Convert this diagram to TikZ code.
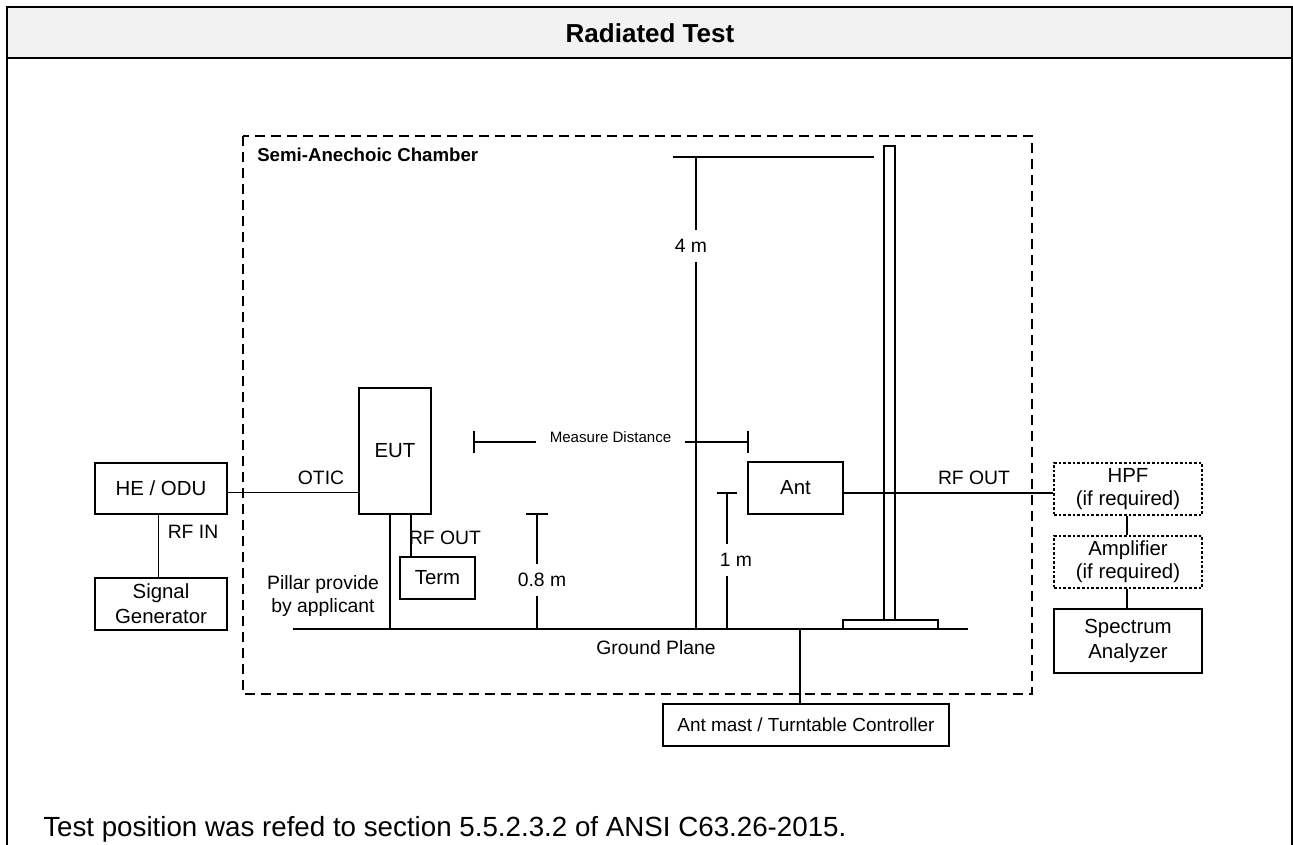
\documentclass[tikz,border=0pt]{standalone}
\usepackage{fontspec}
\setmainfont{Liberation Sans}
\definecolor{hdr}{HTML}{F2F2F2}
\tikzset{
  lbl/.style={font=\fontsize{14.5}{17}\selectfont, inner sep=1pt},
  box/.style={draw, line width=0.9pt, font=\fontsize{15.3}{18.5}\selectfont, align=center, inner sep=0pt},
  dbox/.style={box, font=\fontsize{15.3}{17.5}\selectfont, dash pattern=on 2pt off 1.5pt},
  wire/.style={line width=0.9pt},
  dimline/.style={line width=0.9pt},
  gaplbl/.style={font=\fontsize{14.5}{17}\selectfont, inner xsep=1pt, inner ysep=7pt},
}
\begin{document}
\begin{tikzpicture}[x=0.75pt,y=-0.75pt]
\useasboundingbox (0,0) rectangle (1293,845);
% frame and header
\fill[hdr] (7,7) rectangle (1292,58);
\draw[line width=1.5pt] (7,845) -- (7,7) -- (1292,7) -- (1292,845);
\draw[line width=1.5pt] (7,58) -- (1292,58);
\node[font=\bfseries\fontsize{19.5}{22}\selectfont] (title) at (650,33) {Radiated Test};
% chamber
\draw[line width=0.9pt, dash pattern=on 7.5pt off 4.5pt] (243,136) rectangle (1032,694);
\node[font=\bfseries\fontsize{14}{16}\selectfont, anchor=west, inner sep=0pt] (chamber) at (257,155) {Semi-Anechoic Chamber};
% ground plane
\coordinate (gl) at (293,629);
\coordinate (gr) at (968,629);
\draw[line width=2.2pt] (gl) -- (gr);
\node[lbl] (gp) at (656,648) {Ground Plane};
% boxes
\node[box, minimum width=99pt, minimum height=38.25pt] (heodu) at (161,488.5) {HE / ODU};
\node[box, minimum width=99pt, minimum height=39pt] (sg) at (161,604) {Signal\\Generator};
\node[box, minimum width=54pt, minimum height=94.5pt] (eut) at (395,451) {EUT};
\node[box, minimum width=56.25pt, minimum height=31.5pt] (term) at (437.5,578) {Term};
\node[box, minimum width=71.25pt, minimum height=39pt] (ant) at (795.5,488) {Ant};
\node[dbox, minimum width=111pt, minimum height=39pt] (hpf) at (1128,489) {HPF\\(if required)};
\node[dbox, minimum width=111pt, minimum height=39pt] (amp) at (1128,562) {Amplifier\\(if required)};
\node[box, minimum width=111pt, minimum height=48pt] (sa) at (1128,641) {Spectrum\\Analyzer};
\node[box, font=\fontsize{14.2}{17}\selectfont, minimum width=214.5pt, minimum height=31.5pt] (ctrl) at (806,725) {Ant mast / Turntable Controller};
% mast
\draw[line width=0.9pt] (884,620) -- (884,146) -- (895,146) -- (895,620);
\draw[line width=0.9pt] (843,629) -- (843,620) -- (938,620) -- (938,629);
% connectors
\draw[wire] ([yshift=-3pt]heodu.east) -- ([yshift=-3pt]heodu.east -| eut.west);
\node[lbl] (otic) at (321,478) {OTIC};
\draw[wire] ([xshift=-2pt]heodu.south) -- ([xshift=-2pt]sg.north);
\node[lbl] (rfin) at (193,532) {RF IN};
\coordinate (pil) at (390,629);
\draw[wire] (pil |- eut.south) -- (pil);
\node[lbl, align=center] (pillar) at (323,596) {Pillar provide\\by applicant};
\coordinate (rfo) at (411,557);
\draw[wire] (rfo |- eut.south) -- (rfo |- term.north);
\node[lbl] (rfout1) at (445,538) {RF OUT};
\draw[wire] ([yshift=-3.75pt]ant.east) -- ([yshift=-3.75pt]ant.east -| hpf.west);
\node[lbl] (rfout2) at (974,478) {RF OUT};
\draw[wire] ([xshift=-0.75pt]hpf.south) -- ([xshift=-0.75pt]amp.north);
\draw[wire] ([xshift=-0.75pt]amp.south) -- ([xshift=-0.75pt]sa.north);
\coordinate (cg) at (800,629);
\draw[wire] (cg) -- (cg |- ctrl.north);
% 4 m
\coordinate (h4a) at (673,157);
\coordinate (h4b) at (874,157);
\draw[dimline] (h4a) -- (h4b);
\coordinate (v4) at (696,629);
\node[gaplbl] (l4) at (691,246) {4 m};
\draw[dimline] (v4 |- h4a) -- (v4 |- l4.north);
\draw[dimline] (v4 |- l4.south) -- (v4);
% 0.8 m
\coordinate (t08) at (537,514);
\node[gaplbl] (l08) at (542,580) {0.8 m};
\draw[dimline] ([xshift=-8.25pt]t08) -- ([xshift=8.25pt]t08);
\draw[dimline] (t08) -- (t08 |- l08.north);
\draw[dimline] (t08 |- l08.south) -- (t08 |- gl);
% 1 m
\coordinate (t1) at (727,493);
\node[gaplbl] (l1) at (736,560) {1 m};
\draw[dimline] ([xshift=-7.5pt]t1) -- ([xshift=7.5pt]t1);
\draw[dimline] (t1) -- (t1 |- l1.north);
\draw[dimline] (t1 |- l1.south) -- (t1 |- gl);
% measure distance
\coordinate (mdl) at (474,442);
\coordinate (mdr) at (748,442);
\node[font=\fontsize{11.3}{13}\selectfont, inner xsep=10.5pt, inner ysep=1pt] (md) at (610.5,437) {Measure Distance};
\draw[dimline] ([yshift=8.25pt]mdl) -- ([yshift=-8.25pt]mdl);
\draw[dimline] ([yshift=8.25pt]mdr) -- ([yshift=-8.25pt]mdr);
\draw[dimline] (mdl) -- (mdl -| md.west);
\draw[dimline] (mdr -| md.east) -- (mdr);
% bottom text
\node[anchor=west, font=\fontsize{20.8}{24}\selectfont, inner sep=0pt] (note) at (43,829) {Test position was refed to section 5.5.2.3.2 of ANSI C63.26-2015.};
\end{tikzpicture}
\end{document}
